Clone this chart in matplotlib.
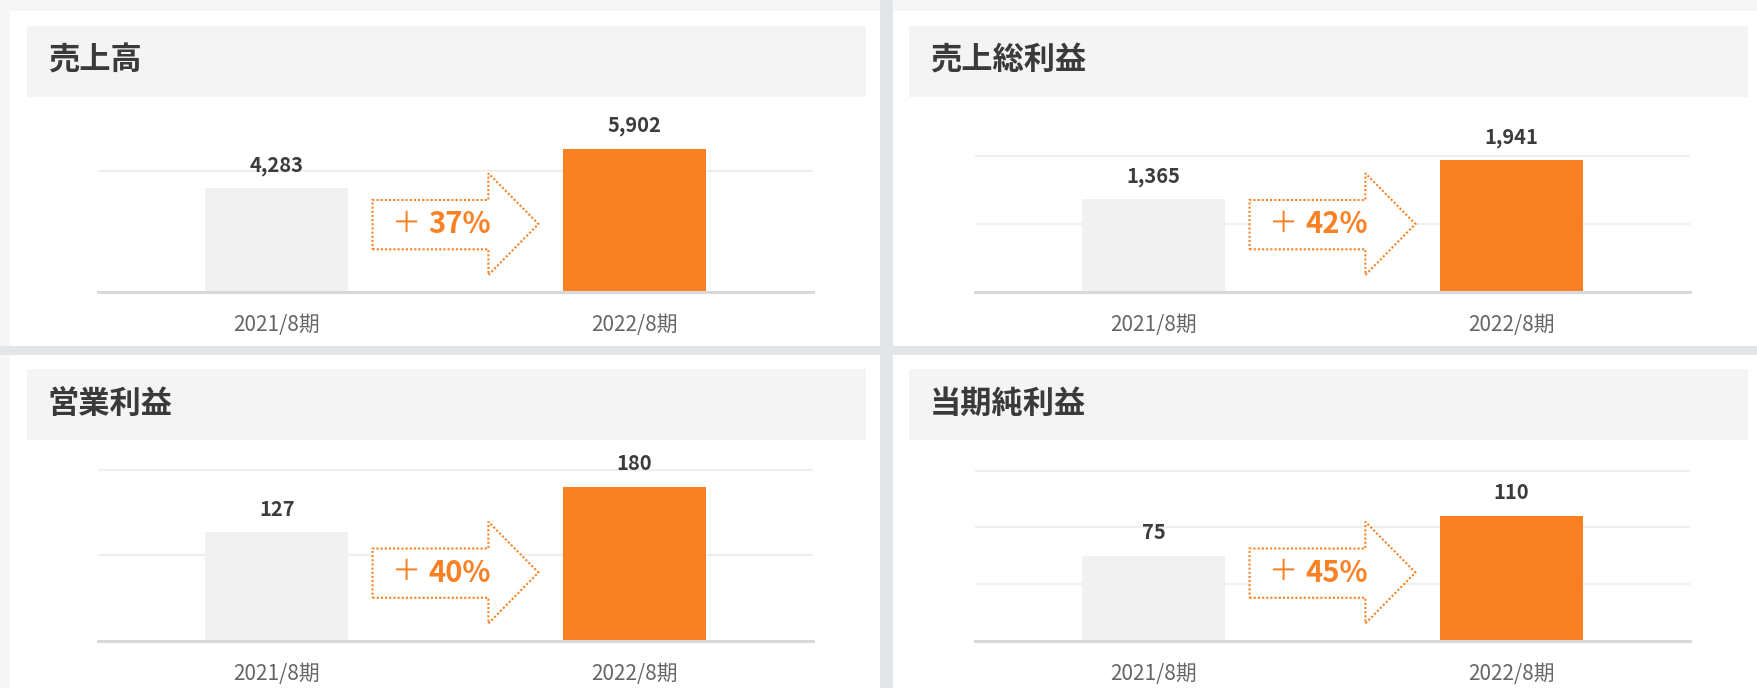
import matplotlib
matplotlib.use("Agg")
import matplotlib.pyplot as plt
from matplotlib.patches import Rectangle, Polygon
from matplotlib.ticker import MultipleLocator
from matplotlib import transforms

plt.rcParams['font.family'] = ['Noto Sans CJK JP', 'DejaVu Sans']

# data
titles = ['売上高', '売上総利益', '営業利益', '当期純利益']
periods = ['2021/8期', '2022/8期']
prev_vals = [4283, 1365, 127, 75]
curr_vals = [5902, 1941, 180, 110]
growth = [37, 42, 40, 45]
grid_steps = [5000, 1000, 100, 50]
y_max = [7420, 2647, 211, 159]

W, H = 1757, 688
fig = plt.figure(figsize=(W / 100, H / 100), dpi=100, facecolor='#f6f6f7')

def box(x0, y0, x1, y1):
    # pixel box (top-left origin) -> figure fraction
    return [x0 / W, 1 - y1 / H, (x1 - x0) / W, (y1 - y0) / H]

def rect(x0, y0, x1, y1, color, z=0):
    b = box(x0, y0, x1, y1)
    fig.patches.append(Rectangle((b[0], b[1]), b[2], b[3], transform=fig.transFigure,
                                 facecolor=color, edgecolor='none', zorder=z))

# gaps between cards
rect(880, 0, 893, H, '#e3e6e9')
rect(0, 346, W, 355, '#e3e6e9')

col_x = [(10, 880), (893, 1775)]
row_y = [(11, 346), (355, 700)]
head_x = [(27, 866), (909, 1748)]
head_y = [(26, 97), (369, 440)]
ax_x = [(98, 813), (975, 1690)]
base_y = [292, 640.5]
ax_h = 180

orange = '#f98124'
light = '#f1f1f1'

for i in range(4):
    r, c = divmod(i, 2)
    rect(col_x[c][0], row_y[r][0], col_x[c][1], row_y[r][1], 'white', 1)
    rect(head_x[c][0], head_y[r][0], head_x[c][1], head_y[r][1], '#f4f4f4', 2)
    fig.text((head_x[c][0] + 21) / W, 1 - (sum(head_y[r]) / 2 - 1) / H, titles[i],
             fontsize=22.5, fontweight='bold', color='#3a3a3a', va='center', ha='left',
             zorder=3)

    ax = fig.add_axes(box(ax_x[c][0], base_y[r] - ax_h, ax_x[c][1], base_y[r]))
    ax.set_zorder(5)
    ax.set_facecolor('none')
    bars = ax.bar([0, 1], [prev_vals[i], curr_vals[i]], width=0.4,
                  color=[light, orange], zorder=2)
    ax.bar_label(bars, labels=[f'{prev_vals[i]:,}', f'{curr_vals[i]:,}'], padding=9,
                 fontsize=14.5, fontweight='bold', color='#3c3c3c')
    ax.set_xlim(-0.5, 1.5)
    ax.set_ylim(0, y_max[i])
    ax.yaxis.set_major_locator(MultipleLocator(grid_steps[i]))
    ax.yaxis.grid(True, color='#efefef', linewidth=1.6, zorder=0)
    ax.set_axisbelow(True)
    ax.axhline(0, color='#d9d9d9', linewidth=2.2, zorder=3, clip_on=False)
    for s in ax.spines.values():
        s.set_visible(False)
    ax.set_yticklabels([])
    ax.tick_params(axis='y', length=0)
    ax.set_xticks([0, 1], periods)
    ax.tick_params(axis='x', length=0, pad=16, labelsize=15, labelcolor='#666666')

    # dotted growth arrow between bars
    tr = transforms.blended_transform_factory(ax.transData, ax.transAxes)
    bx0, bx1, tip = 0.268, 0.592, 0.732
    bb, bt, hb, ht, ty = 42.7 / ax_h, 92 / ax_h, 17 / ax_h, 118.7 / ax_h, 68 / ax_h
    arrow = Polygon([(bx0, bb), (bx1, bb), (bx1, hb), (tip, ty), (bx1, ht), (bx1, bt), (bx0, bt)],
                    closed=True, transform=tr, facecolor='white', edgecolor=orange,
                    linewidth=1.5, linestyle=(0, (1, 1)), zorder=4)
    ax.add_patch(arrow)
    ax.text(0.364, ty, '＋', transform=tr, ha='center', va='center',
            fontsize=21, color=orange, zorder=5)
    ax.text(0.424, ty, f'{growth[i]}%', transform=tr, ha='left', va='center',
            fontsize=21, fontweight='bold', color=orange, zorder=5)

fig.savefig('out.png', dpi=100, facecolor=fig.get_facecolor())
